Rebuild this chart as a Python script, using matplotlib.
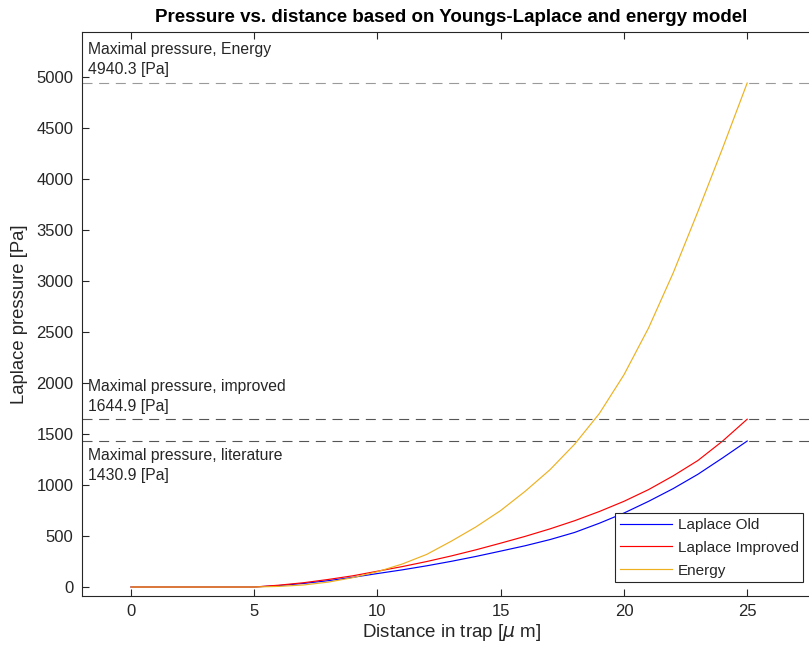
import matplotlib
matplotlib.use("Agg")
import matplotlib.pyplot as plt

# values
distance = [0, 1, 2, 3, 4, 5, 6, 7, 8, 9, 10, 11, 12, 13, 14, 15,
            16, 17, 18, 19, 20, 21, 22, 23, 24, 25]
laplace_old = [0, 0, 0, 0, 0, 0, 14, 35, 62, 95, 132, 168, 208, 252, 300, 352,
               405, 465, 535, 625, 725, 840, 965, 1105, 1265, 1430.9]
laplace_improved = [0, 0, 0, 0, 0, 0, 18, 42, 74, 110, 155, 200, 250, 305, 365, 430,
                    497, 570, 650, 740, 840, 955, 1090, 1240, 1430, 1644.9]
energy = [0, 0, 0, 0, 0, 0, 6, 20, 48, 92, 150, 225, 320, 450, 590, 750,
          940, 1150, 1400, 1700, 2080, 2540, 3080, 3680, 4300, 4940.3]

max_values = [4940.3, 1644.9, 1430.9]
max_labels = ["Maximal pressure, Energy", "Maximal pressure, improved",
              "Maximal pressure, literature"]

plt.rcParams['font.family'] = ['Liberation Sans', 'DejaVu Sans']
plt.rcParams['mathtext.fontset'] = 'dejavusans'

fig = plt.figure(figsize=(8.09, 6.52), dpi=100)
ax = fig.add_axes([0.101, 0.0859, 0.914, 0.865])

text_color = (0.15, 0.15, 0.15)

ax.plot(distance, laplace_old, color=(0, 0, 1), lw=0.85, label='Laplace Old')
ax.plot(distance, laplace_improved, color=(1, 0, 0), lw=0.85, label='Laplace Improved')
ax.plot(distance, energy, color=(0.929, 0.694, 0.125), lw=0.85, label='Energy')

lw_dash = 0.8
dash_colors = ['#9a9a9a', '#555555', '#555555']
for val, col in zip(max_values, dash_colors):
    ax.axhline(val, color=col, lw=lw_dash, linestyle=(0, (7.2 / lw_dash, 4.8 / lw_dash)))

# annotations for the maximum pressures
txt_kw = dict(ha='left', fontsize=11.3, color=text_color, linespacing=1.42)
ax.text(-1.75, max_values[0] + 55, f"{max_labels[0]}\n{max_values[0]:.1f} [Pa]",
        va='bottom', **txt_kw)
ax.text(-1.75, max_values[1] + 55, f"{max_labels[1]}\n{max_values[1]:.1f} [Pa]",
        va='bottom', **txt_kw)
ax.text(-1.75, max_values[2] - 65, f"{max_labels[2]}\n{max_values[2]:.1f} [Pa]",
        va='top', **txt_kw)

ax.set_xlim(-2, 28)
ax.set_ylim(-88, 5440)
ax.set_xticks([0, 5, 10, 15, 20, 25])
ax.set_yticks(list(range(0, 5001, 500)))
ax.tick_params(direction='in', length=5, width=0.8, colors=text_color,
               labelsize=12, top=True, right=True, pad=6)
for sp in ax.spines.values():
    sp.set_color(text_color)
    sp.set_linewidth(0.8)

ax.set_title('Pressure vs. distance based on Youngs-Laplace and energy model',
             fontsize=13.5, fontweight='bold', pad=7, color='black')
ax.set_xlabel(r'Distance in trap [$\mu$ m]', fontsize=13.5, color=text_color, labelpad=2)
ax.set_ylabel('Laplace pressure [Pa]', fontsize=13.3, color=text_color, labelpad=6)

leg = ax.legend(loc='upper left', bbox_to_anchor=(0.7213, 0.1466), fontsize=11,
                handlelength=3.4, fancybox=False, framealpha=1, borderpad=0.3,
                labelspacing=0.58, handletextpad=0.4, borderaxespad=0)
leg.get_frame().set_edgecolor(text_color)
leg.get_frame().set_linewidth(0.8)
for t in leg.get_texts():
    t.set_color(text_color)

fig.savefig('out.png', dpi=100)
